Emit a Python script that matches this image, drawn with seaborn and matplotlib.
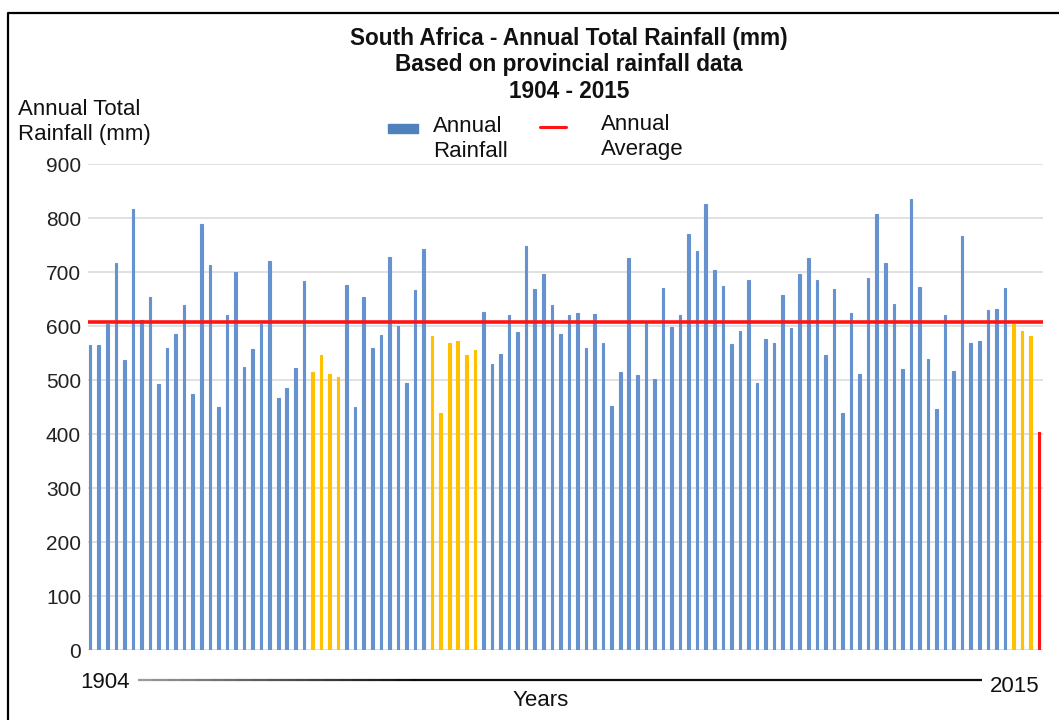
import matplotlib
matplotlib.use("Agg")
import matplotlib.pyplot as plt
import seaborn as sns
import pandas as pd
import numpy as np
from matplotlib.lines import Line2D
from matplotlib.patches import Rectangle
from matplotlib.collections import LineCollection

# ---------------- data ----------------
years = list(range(1904, 2016))
rainfall = [
    564, 564, 604, 716, 537, 817, 611, 653, 492, 560,   # 1904-1913
    585, 639, 474, 788, 713, 450, 621, 700, 525, 558,   # 1914-1923
    604, 720, 466, 486, 523, 683, 514, 547, 511, 505,   # 1924-1933
    676, 450, 653, 559, 583, 727, 600, 494, 666, 742,   # 1934-1943
    581, 438, 568, 573, 547, 556, 626, 529, 549, 621,   # 1944-1953
    589, 749, 669, 696, 639, 585, 620, 625, 560, 623,   # 1954-1963
    568, 451, 515, 726, 509, 605, 501, 671, 599, 621,   # 1964-1973
    770, 738, 826, 704, 674, 567, 591, 685, 494, 576,   # 1974-1983
    569, 657, 596, 697, 726, 686, 546, 669, 438, 624,   # 1984-1993
    511, 689, 808, 716, 641, 520, 836, 672, 539, 446,   # 1994-2003
    621, 516, 767, 569, 572, 630, 631, 671, 604, 591,   # 2004-2013
    581, 403,                                           # 2014-2015
]
drought_years = [1930, 1931, 1932, 1933, 1944, 1945, 1946, 1947, 1948, 1949,
                 2012, 2013, 2014]
current_year = 2015
annual_average = 607

title_lines = ["South Africa - Annual Total Rainfall (mm)",
               "Based on provincial rainfall data",
               "1904 - 2015"]
legend_labels = ["Annual\nRainfall", "Annual\nAverage"]
y_ticks = list(range(0, 901, 100))

kind = ["current" if y == current_year else ("drought" if y in drought_years else "normal")
        for y in years]
df = pd.DataFrame({"year": [str(y) for y in years], "rain": rainfall, "kind": kind})

# ---------------- style ----------------
BLUE = "#6693cf"
YELLOW = "#ffc000"
RED = "#ff1414"
palette = {"normal": BLUE, "drought": YELLOW, "current": RED}

sns.set_theme(style="white")
plt.rcParams["font.family"] = ["Liberation Sans", "DejaVu Sans"]

W, H = 1059, 720
fig = plt.figure(figsize=(W / 100, H / 100), dpi=100)
ax = fig.add_axes([88 / W, 1 - 650 / H, (1043 - 88) / W, (650 - 164) / H])

sns.barplot(data=df, x="year", y="rain", hue="kind", palette=palette,
            dodge=False, width=0.3, saturation=1, legend=False, ax=ax,
            linewidth=0.8)
for p in ax.patches:
    p.set_edgecolor(p.get_facecolor())

ax.axhline(annual_average, color=RED, lw=2.6, zorder=5)

ax.set_xlim(-0.25, 111.45)
ax.set_ylim(0, 900)
ax.set_yticks(y_ticks)
ax.set_yticklabels([str(t) for t in y_ticks], fontsize=15, color="#222222")
ax.set_xticks([])
ax.set_xlabel("")
ax.set_ylabel("")
ax.tick_params(axis="y", length=0, pad=5)
ax.yaxis.grid(True, color="#dedede", lw=1.3)
ax.set_axisbelow(True)
for s in ax.spines.values():
    s.set_visible(False)

def fx(px):
    return px / W

def fy(py):
    return 1 - py / H

# title
for txt, yy in zip(title_lines, [38, 65, 91]):
    fig.text(fx(569), fy(yy), txt, ha="center", va="center",
             fontsize=16.3, fontweight="bold", color="#111111")

# y axis label
fig.text(fx(18), fy(122), "Annual Total\nRainfall (mm)", ha="left", va="center",
         fontsize=16, color="#111111", linespacing=1.3)

# legend (manual)
fig.patches.append(Rectangle((fx(388), fy(133)), fx(30), 9 / H,
                             transform=fig.transFigure, color="#4f81bd"))
fig.text(fx(433), fy(139), legend_labels[0], ha="left", va="center",
         fontsize=16, color="#111111", linespacing=1.25)
fig.lines.append(Line2D([fx(540), fx(566)], [fy(127), fy(127)],
                        transform=fig.transFigure, color=RED, lw=2.2))
fig.text(fx(601), fy(137), legend_labels[1], ha="left", va="center",
         fontsize=16, color="#111111", linespacing=1.25)

# bottom year axis
fig.text(fx(105), fy(682), str(years[0]), ha="center", va="center",
         fontsize=16, color="#111111")
fig.text(fx(1015), fy(686), str(years[-1]), ha="center", va="center",
         fontsize=16, color="#111111")
fig.text(fx(541), fy(700), "Years", ha="center", va="center",
         fontsize=16, color="#111111")
xs = np.linspace(fx(138), fx(982), 60)
segs = [[(xs[i], fy(680)), (xs[i + 1], fy(680))] for i in range(len(xs) - 1)]
shade = np.concatenate([np.linspace(0.6, 0.05, 20), np.full(len(segs) - 20, 0.05)])
lc = LineCollection(segs, colors=[(s, s, s) for s in shade], lw=1.6,
                    transform=fig.transFigure)
fig.add_artist(lc)

# outer frame (left & top)
fig.lines.append(Line2D([fx(8), fx(8), fx(1059)], [fy(720), fy(12.5), fy(12.5)],
                        transform=fig.transFigure, color="#000000", lw=1.6))

fig.savefig("out.png", dpi=100, facecolor="white")
